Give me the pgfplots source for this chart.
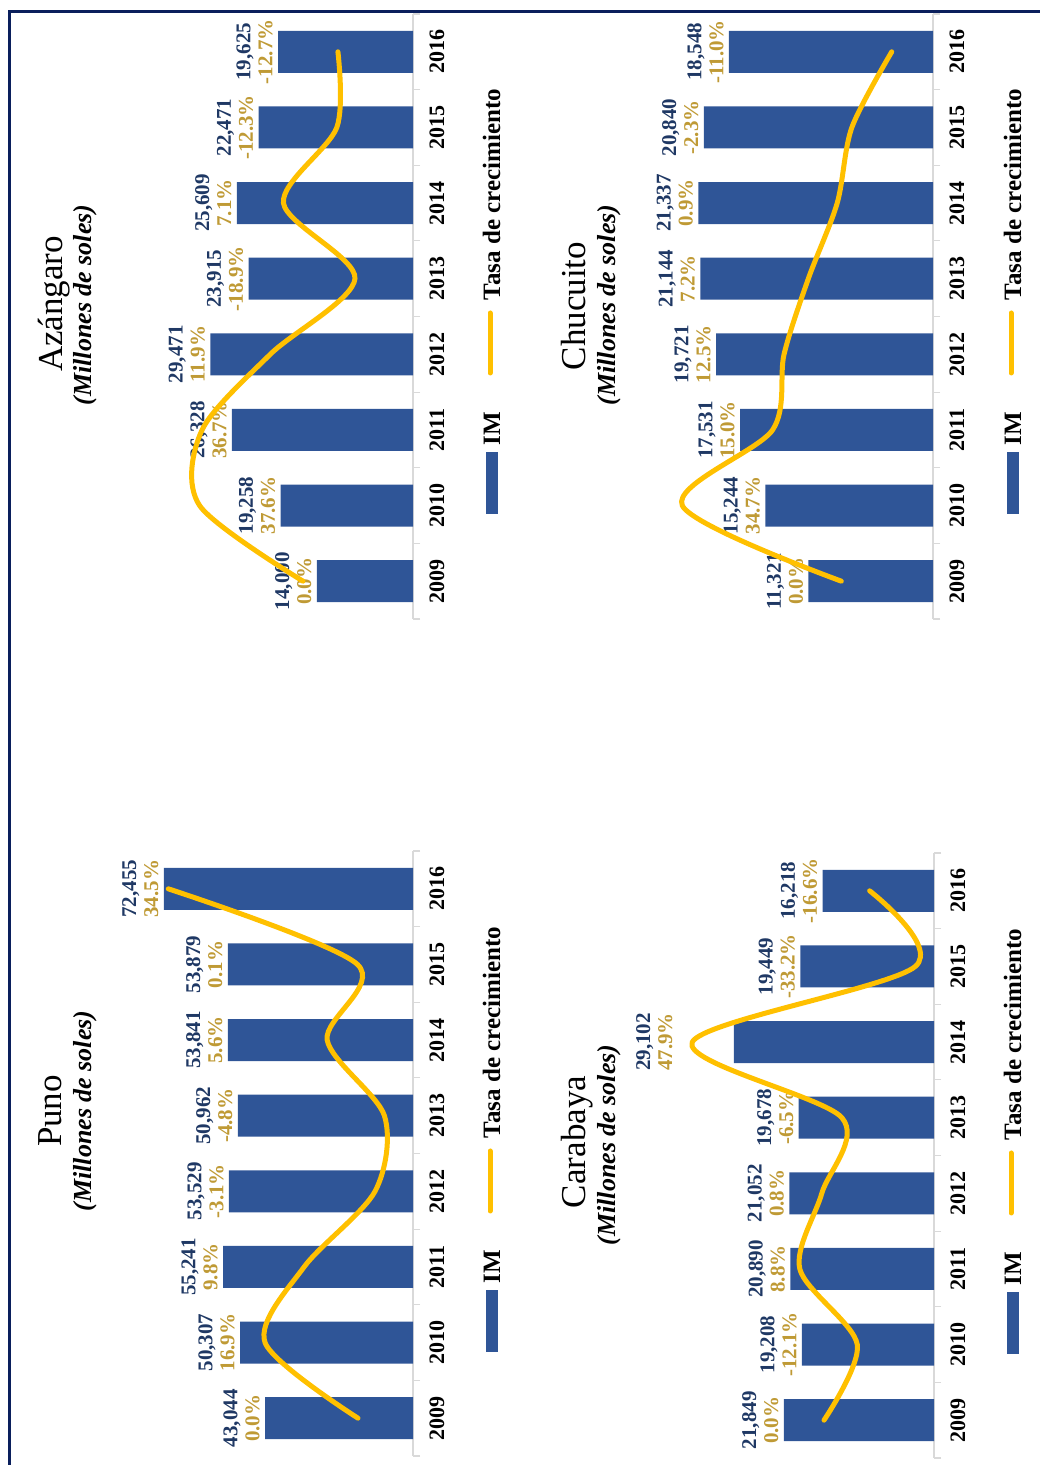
\documentclass[border=0pt]{standalone}
\usepackage{pgfplots}
\pgfplotsset{compat=1.18}
\usepackage{pgfplotstable}
\usepackage{fontspec}
\setmainfont{Liberation Serif}
\definecolor{barblue}{HTML}{2F5597}
\definecolor{valblue}{HTML}{1F3864}
\definecolor{rategold}{HTML}{BF9A35}
\definecolor{linegold}{HTML}{FFC000}
\definecolor{frameblue}{HTML}{0A1F5C}
\definecolor{axgray}{HTML}{D9D9D9}

% off = extra shift (pt) of the data label away from the bar end
\pgfplotstableread{
yr im rate off
0 43044 0.0 0
1 50307 16.9 0
2 55241 9.8 0
3 53529 -3.1 0
4 50962 -4.8 0
5 53841 5.6 0
6 53879 0.1 0
7 72455 34.5 0
}\puno
\pgfplotstableread{
yr im rate off
0 14000 0.0 0
1 19258 37.6 0
2 26328 36.7 0
3 29471 11.9 0
4 23915 -18.9 0
5 25609 7.1 0
6 22471 -12.3 0
7 19625 -12.7 0
}\azangaro
\pgfplotstableread{
yr im rate off
0 21849 0.0 0
1 19208 -12.1 0
2 20890 8.8 0
3 21052 0.8 0
4 19678 -6.5 0
5 29102 47.9 28
6 19449 -33.2 0
7 16218 -16.6 0
}\carabaya
\pgfplotstableread{
yr im rate off
0 11321 0.0 0
1 15244 34.7 0
2 17531 15.0 0
3 19721 12.5 0
4 21144 7.2 0
5 21337 0.9 0
6 20840 -2.3 0
7 18548 -11.0 0
}\chucuito

\pgfplotsset{
  barax/.style={
    scale only axis, width=137.5pt, height=302.5pt, anchor=center,
    xbar, x dir=reverse, xmin=0,
    ymin=-0.5, ymax=7.5,
    axis x line=none, axis y line=right,
    y axis line style={axgray, line width=0.6pt, -},
    ytick={0,1,2,3,4,5,6,7},
    yticklabels={2009,2010,2011,2012,2013,2014,2015,2016},
    minor ytick={-0.5,0.5,1.5,2.5,3.5,4.5,5.5,6.5,7.5},
    major tick length=0pt, minor tick length=3.5pt,
    tick align=outside,
    minor tick style={axgray, line width=0.6pt},
    major tick style={draw=none},
    yticklabel style={xshift=8pt, rotate=90, anchor=north, inner sep=0pt,
      font=\fontsize{11}{12}\selectfont\bfseries},
    clip=false,
    /pgf/number format/assume math mode=true,
  },
  barplot/.style={
    fill=barblue, draw=none, bar width=21pt, bar shift=0pt, point meta=x,
    visualization depends on={\thisrow{rate}\as\rateval},
    visualization depends on={\thisrow{off}\as\laboff},
    nodes near coords={\textcolor{valblue}{\pgfmathprintnumber[fixed,precision=0,1000 sep={,}]{\pgfplotspointmeta}}\\\textcolor{rategold}{\pgfmathprintnumber[fixed,fixed zerofill,precision=1]{\rateval}\%}},
    every node near coord/.append style={xshift=-\laboff pt, rotate=90, anchor=south, align=center,
      inner sep=2.5pt, font=\fontsize{10.5}{11}\selectfont\bfseries},
  },
  lineax/.style={
    scale only axis, width=137.5pt, height=302.5pt, anchor=center,
    x dir=reverse, ymin=-0.5, ymax=7.5, hide axis, clip=false,
  },
  goldline/.style={linegold, line width=2.5pt, line cap=round, smooth},
}
\tikzset{
  ttl/.style={rotate=90, anchor=base, inner sep=0pt, font=\fontsize{17.5}{19}\selectfont},
  sub/.style={rotate=90, anchor=base, inner sep=0pt, font=\fontsize{13}{14}\selectfont\bfseries\itshape},
  legtxt/.style={rotate=90, anchor=base, inner sep=0pt, font=\fontsize{12.5}{13}\selectfont\bfseries},
}
% legend drawn in the rotated orientation of the chart
\newcommand{\rotlegend}[2]{%
  \begin{scope}[shift={(#1,#2)}]
    \fill[barblue] (243pt,56.5pt) rectangle (249pt,87.5pt);
    \node[legtxt] at (250pt,99.25pt) {IM};
    \draw[linegold, line width=2.5pt, line cap=round] (245pt,127pt) -- (245pt,157pt);
    \node[legtxt] at (250pt,216.25pt) {Tasa de crecimiento};
  \end{scope}}

\begin{document}
\begin{tikzpicture}
\path[use as bounding box] (0pt,0pt) rectangle (520pt,732.5pt);
\draw[frameblue, line width=1.75pt] (4.75pt,0pt) -- (4.75pt,726.75pt) -- (520pt,726.75pt);

% ---- Puno
\begin{axis}[barax, at={(137.75pt,155.75pt)}, xmax=80000]
\addplot[barplot] table[x=im,y=yr]{\puno};
\end{axis}
\begin{axis}[lineax, at={(137.75pt,155.75pt)}, xmin=-10, xmax=40]
\addplot[goldline] table[x=rate,y=yr]{\puno};
\end{axis}

% ---- Azangaro
\begin{axis}[barax, at={(137.75pt,574.25pt)}, xmax=40000]
\addplot[barplot] table[x=im,y=yr]{\azangaro};
\end{axis}
\begin{axis}[lineax, at={(137.75pt,574.25pt)}, xmin=-40, xmax=60]
\addplot[goldline] table[x=rate,y=yr]{\azangaro};
\end{axis}

% ---- Carabaya
\begin{axis}[barax, at={(398.25pt,154.75pt)}, xmax=40000]
\addplot[barplot] table[x=im,y=yr]{\carabaya};
\end{axis}
\begin{axis}[lineax, at={(398.25pt,154.75pt)}, xmin=-40, xmax=60]
\addplot[goldline] table[x=rate,y=yr]{\carabaya};
\end{axis}

% ---- Chucuito
\begin{axis}[barax, at={(397.75pt,574.25pt)}, xmax=25000]
\addplot[barplot] table[x=im,y=yr]{\chucuito};
\end{axis}
\begin{axis}[lineax, at={(397.75pt,574.25pt)}, xmin=-20, xmax=40]
\addplot[goldline] table[x=rate,y=yr]{\chucuito};
\end{axis}

% ---- legends
\rotlegend{0pt}{0pt}
\rotlegend{0pt}{419pt}
\rotlegend{260.5pt}{-1pt}
\rotlegend{260.5pt}{419pt}

% ---- titles
\node[ttl] at (31pt,177pt) {Puno};
\node[sub] at (45.5pt,177pt) {(Millones de soles)};
\node[ttl] at (31.5pt,580.5pt) {Azángaro};
\node[sub] at (45.5pt,580pt) {(Millones de soles)};
\node[ttl] at (292.5pt,161.5pt) {Carabaya};
\node[sub] at (307.5pt,160pt) {(Millones de soles)};
\node[ttl] at (292.5pt,579.5pt) {Chucuito};
\node[sub] at (307.5pt,580pt) {(Millones de soles)};
\end{tikzpicture}
\end{document}
